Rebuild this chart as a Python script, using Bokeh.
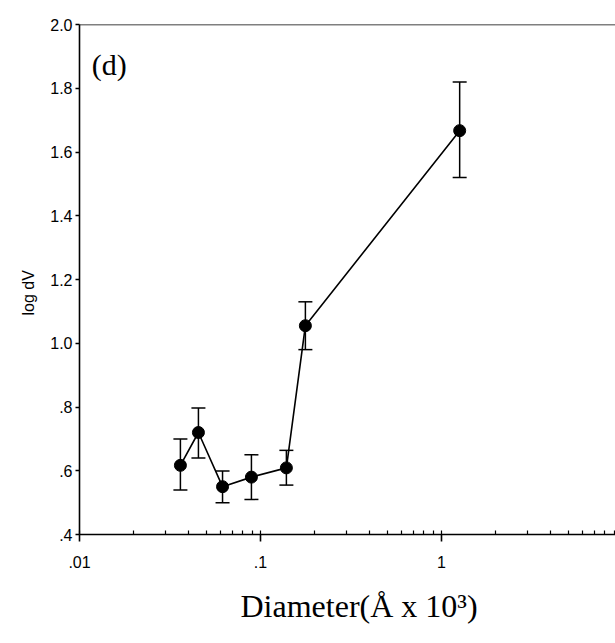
from bokeh.plotting import figure
from bokeh.models import (ColumnDataSource, Whisker, TeeHead, FixedTicker, LogTicker,
                          Span, Label, Title)
from bokeh.embed import file_html
from bokeh.resources import INLINE

# Data
diameter = [0.0361, 0.0454, 0.0617, 0.0891, 0.139, 0.177, 1.26]
log_dv = [0.617, 0.720, 0.550, 0.580, 0.609, 1.055, 1.667]
err_upper = [0.700, 0.797, 0.599, 0.650, 0.664, 1.130, 1.820]
err_lower = [0.540, 0.640, 0.500, 0.510, 0.555, 0.980, 1.520]

y_ticks = [0.4, 0.6, 0.8, 1.0, 1.2, 1.4, 1.6, 1.8, 2.0]
y_tick_labels = [".4", ".6", ".8", "1.0", "1.2", "1.4", "1.6", "1.8", "2.0"]
x_ticks = [0.01, 0.1, 1, 10]
x_tick_labels = [".01", ".1", "1", "10"]

src = ColumnDataSource(dict(x=diameter, y=log_dv, up=err_upper, lo=err_lower))

p = figure(width=615, height=643, x_axis_type="log",
           x_range=(0.01, 10 ** (536 / 181 - 2)), y_range=(0.4, 2.0),
           output_backend="svg", toolbar_location=None,
           min_border_left=79, min_border_right=0, min_border_top=24,
           min_border_bottom=109)
p.grid.visible = False
p.outline_line_color = None
p.background_fill_color = "white"
p.border_fill_color = "white"

# Axes styling
xa = p.xaxis[0]
xa.ticker = LogTicker(base=10, mantissas=[1], desired_num_ticks=4, num_minor_ticks=10)
xa.major_label_overrides = {t: l for t, l in zip(x_ticks, x_tick_labels)}
xa.major_tick_out = 7
xa.major_tick_in = 0
xa.minor_tick_in = 4
xa.minor_tick_out = 0
xa.axis_line_width = 1.6
xa.major_tick_line_width = 1.6
xa.minor_tick_line_width = 1.2
xa.major_label_text_font = "Liberation Sans"
xa.major_label_text_font_size = "16px"
xa.major_label_text_color = "black"
xa.major_label_standoff = 14
xa.axis_label = None

ya = p.yaxis[0]
ya.ticker = FixedTicker(ticks=y_ticks, minor_ticks=[])
ya.major_label_overrides = {t: l for t, l in zip(y_ticks, y_tick_labels)}
ya.major_tick_out = 4
ya.major_tick_in = 0
ya.minor_tick_out = 0
ya.minor_tick_in = 0
ya.axis_line_width = 1.6
ya.major_tick_line_width = 1.6
ya.major_label_text_font = "Liberation Sans"
ya.major_label_text_font_size = "16px"
ya.major_label_text_color = "black"
ya.major_label_standoff = 3
ya.axis_label = None

# top border line
p.add_layout(Span(location=2.0, dimension="width", line_color="black", line_width=1.6))

# error bars
p.add_layout(Whisker(source=src, base="x", upper="up", lower="lo",
                     line_color="black", line_width=1.5,
                     upper_head=TeeHead(size=14, line_color="black", line_width=1.5),
                     lower_head=TeeHead(size=14, line_color="black", line_width=1.5)))

p.line("x", "y", source=src, line_color="black", line_width=1.6)
p.scatter("x", "y", source=src, size=12, marker="circle",
          fill_color="black", line_color="black")

p.add_layout(Label(x=0.0117, y=1.874, text="(d)", text_font="Liberation Serif",
                   text_font_size="30px", text_color="black",
                   text_baseline="alphabetic"))

# x-axis title as a below-title so it can be positioned freely
p.add_layout(Title(text="Diameter(Å x 10³)", align="left", offset=161,
                   text_font="Liberation Serif", text_font_size="32px",
                   text_font_style="normal", text_color="black",
                   vertical_align="top", standoff=35), "below")

# y-axis title as a left-title
p.add_layout(Title(text="log dV", align="left", offset=219,
                   text_font="Liberation Sans", text_font_size="16px",
                   text_font_style="normal", text_color="black",
                   standoff=22), "left")

open("out.html", "w").write(file_html(p, INLINE))
